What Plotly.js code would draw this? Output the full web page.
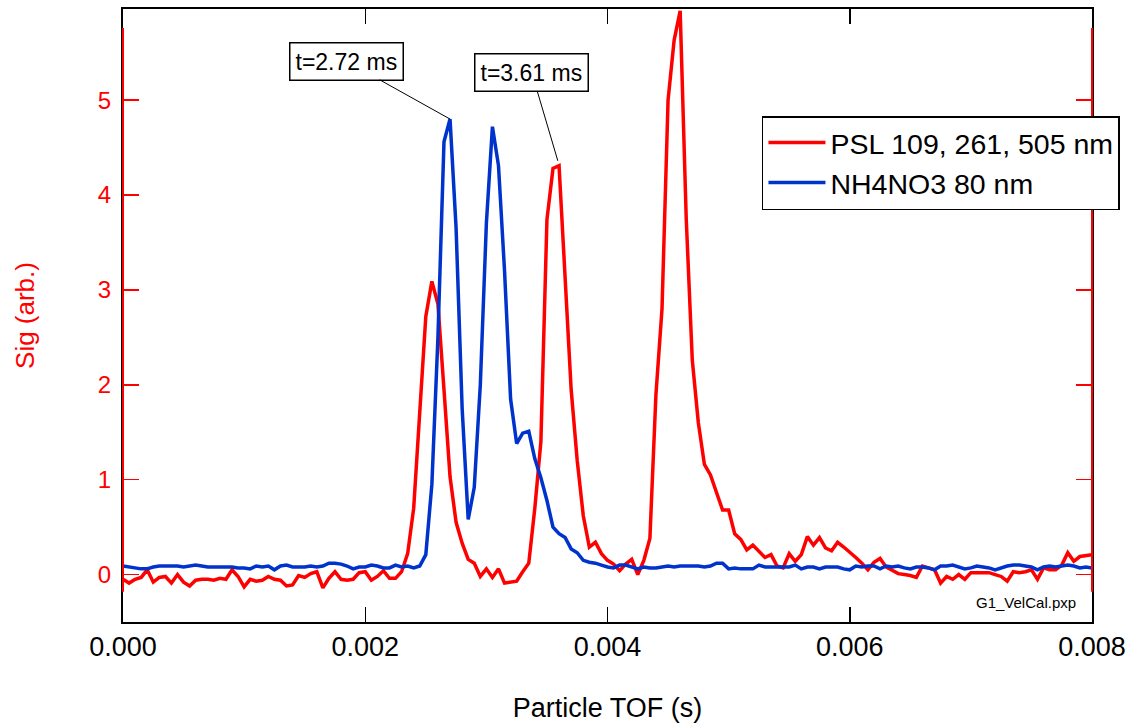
<!DOCTYPE html>
<html>
<head>
<meta charset="utf-8">
<script src="https://cdn.plot.ly/plotly-3.0.1.min.js"></script>
<style>html,body{margin:0;padding:0;background:#fff;}#chart{width:1134px;height:726px;}</style>
</head>
<body>
<div id="chart"></div>
<script>
// Sampling grid (s)
const tofStart = 0.0;
const tofStep = 0.00005;

// PSL 109, 261, 505 nm (red)
const pslSignal = [
 -0.05,-0.09,-0.05,-0.03,0.05,-0.08,-0.03,-0.02,-0.09,0.00,
 -0.08,-0.12,-0.06,-0.05,-0.05,-0.06,-0.04,-0.05,0.05,-0.02,
 -0.13,-0.05,-0.07,-0.06,-0.02,-0.05,-0.06,-0.12,-0.11,-0.01,
 -0.03,0.01,0.03,-0.14,-0.04,0.03,-0.05,-0.06,-0.05,0.02,
 0.03,-0.06,-0.02,0.04,-0.04,-0.04,0.03,0.22,0.70,1.75,
 2.72,3.09,2.85,1.95,1.03,0.55,0.33,0.16,0.12,-0.02,
 0.06,-0.03,0.06,-0.09,-0.08,-0.07,0.03,0.12,0.70,1.40,
 3.74,4.28,4.31,3.15,1.95,1.20,0.62,0.29,0.34,0.22,
 0.15,0.11,0.04,0.11,0.16,0.00,0.15,0.38,1.90,2.80,
 5.00,5.63,5.94,3.75,2.26,1.60,1.16,1.05,0.86,0.68,
 0.68,0.43,0.37,0.26,0.31,0.25,0.18,0.21,0.09,0.07,
 0.22,0.14,0.21,0.40,0.31,0.39,0.28,0.25,0.34,0.29,
 0.24,0.18,0.12,0.05,0.13,0.17,0.08,0.04,0.01,0.00,
 -0.01,-0.03,0.09,0.07,0.05,-0.09,-0.02,-0.05,0.00,-0.05,
 0.02,0.02,0.02,0.02,0.00,-0.02,-0.07,0.03,0.02,0.03,
 0.05,-0.05,0.07,0.05,0.05,0.10,0.23,0.14,0.19,0.20,
 0.21
];

// NH4NO3 80 nm (blue)
const nh4no3Signal = [
 0.09,0.08,0.07,0.06,0.06,0.08,0.09,0.09,0.09,0.09,
 0.08,0.09,0.10,0.09,0.08,0.08,0.08,0.08,0.08,0.07,
 0.07,0.06,0.09,0.08,0.09,0.05,0.09,0.10,0.08,0.08,
 0.08,0.09,0.08,0.09,0.12,0.12,0.11,0.09,0.06,0.08,
 0.08,0.10,0.09,0.07,0.07,0.10,0.08,0.09,0.07,0.09,
 0.21,0.95,2.50,4.56,4.80,3.65,1.75,0.58,0.92,2.00,
 3.70,4.72,4.31,3.20,1.85,1.38,1.49,1.51,1.22,1.02,
 0.78,0.50,0.43,0.39,0.27,0.23,0.15,0.13,0.12,0.10,
 0.08,0.07,0.10,0.10,0.08,0.06,0.08,0.07,0.07,0.08,
 0.09,0.08,0.09,0.09,0.09,0.09,0.08,0.09,0.12,0.12,
 0.06,0.07,0.06,0.06,0.06,0.10,0.08,0.08,0.08,0.08,
 0.08,0.10,0.06,0.08,0.08,0.06,0.08,0.08,0.08,0.06,
 0.05,0.09,0.08,0.09,0.09,0.06,0.09,0.08,0.09,0.07,
 0.06,0.08,0.08,0.07,0.05,0.09,0.09,0.10,0.08,0.06,
 0.07,0.09,0.08,0.07,0.05,0.07,0.09,0.10,0.10,0.09,
 0.08,0.05,0.08,0.09,0.08,0.09,0.10,0.09,0.07,0.08,
 0.07
];

const seriesNames = ["PSL 109, 261, 505 nm", "NH4NO3 80 nm"];
const xTickVals = [0, 0.002, 0.004, 0.006, 0.008];
const xTickText = ["0.000", "0.002", "0.004", "0.006", "0.008"];
const yTickVals = [0, 1, 2, 3, 4, 5];

const tof = pslSignal.map((_, i) => tofStart + i * tofStep);

const FONT = "Arial, 'Liberation Sans', sans-serif";
const RED = "#ff0000";
const BLUE = "#0033cc";

const traces = [
  {x: tof, y: pslSignal, type: "scatter", mode: "lines", name: seriesNames[0],
   line: {color: RED, width: 3.5}},
  {x: tof, y: nh4no3Signal, type: "scatter", mode: "lines", name: seriesNames[1],
   line: {color: BLUE, width: 3.5}}
];

const layout = {
  width: 1134, height: 726,
  margin: {l: 123, r: 42, t: 9, b: 104},
  paper_bgcolor: "#fff", plot_bgcolor: "#fff",
  font: {family: FONT, color: "#000"},
  showlegend: true,
  legend: {
    x: 0.6594, y: 0.8254, xanchor: "left", yanchor: "top",
    bgcolor: "#fff", bordercolor: "#000", borderwidth: 1.5,
    font: {family: FONT, size: 28.5, color: "#000"},
    itemwidth: 57, tracegroupgap: 0
  },
  xaxis: {
    range: [0, 0.008], tickvals: xTickVals, ticktext: xTickText,
    ticks: "inside", ticklen: 15, tickwidth: 1.5, tickcolor: "#000",
    showline: true, linecolor: "#000", linewidth: 2, mirror: "ticks",
    showgrid: false, zeroline: false,
    tickfont: {family: FONT, size: 27, color: "#000"},
    title: {text: "Particle TOF (s)", font: {family: FONT, size: 27, color: "#000"}, standoff: 37}
  },
  yaxis: {
    range: [-0.5, 5.96], tickvals: yTickVals,
    ticks: "inside", ticklen: 16, tickwidth: 1.5, tickcolor: RED,
    showline: true, linecolor: "#000", linewidth: 2, mirror: "ticks",
    showgrid: false, zeroline: false,
    tickfont: {family: FONT, size: 24, color: RED},
    ticklabelstandoff: 5,
    title: {text: "Sig (arb.)", font: {family: FONT, size: 26, color: RED}, standoff: 56}
  },
  shapes: [
    {type: "line", xref: "paper", yref: "y", x0: 0, x1: 0, y0: -0.18, y1: 5.76,
     line: {color: RED, width: 2}, layer: "above"},
    {type: "line", xref: "paper", yref: "y", x0: 1, x1: 1, y0: -0.18, y1: 5.76,
     line: {color: RED, width: 2}, layer: "above"}
  ],
  annotations: [
    {x: 0.0027, y: 4.80, xref: "x", yref: "y", text: "t=2.72 ms",
     showarrow: true, arrowhead: 0, arrowwidth: 1, arrowcolor: "#000",
     ax: -104, ay: -58, bgcolor: "#fff", bordercolor: "#000", borderwidth: 1.5, borderpad: 5,
     font: {family: FONT, size: 23, color: "#000"}},
    {x: 0.00359, y: 4.36, xref: "x", yref: "y", text: "t=3.61 ms",
     showarrow: true, arrowhead: 0, arrowwidth: 1, arrowcolor: "#000",
     ax: -26, ay: -88, bgcolor: "#fff", bordercolor: "#000", borderwidth: 1.5, borderpad: 5,
     font: {family: FONT, size: 23, color: "#000"}},
    {x: 0.9856, y: 0.031, xref: "paper", yref: "paper", xanchor: "right", yanchor: "middle",
     text: "G1_VelCal.pxp", showarrow: false,
     font: {family: FONT, size: 15, color: "#000"}}
  ]
};

Plotly.newPlot("chart", traces, layout, {displayModeBar: false, staticPlot: true});
</script>
</body>
</html>
